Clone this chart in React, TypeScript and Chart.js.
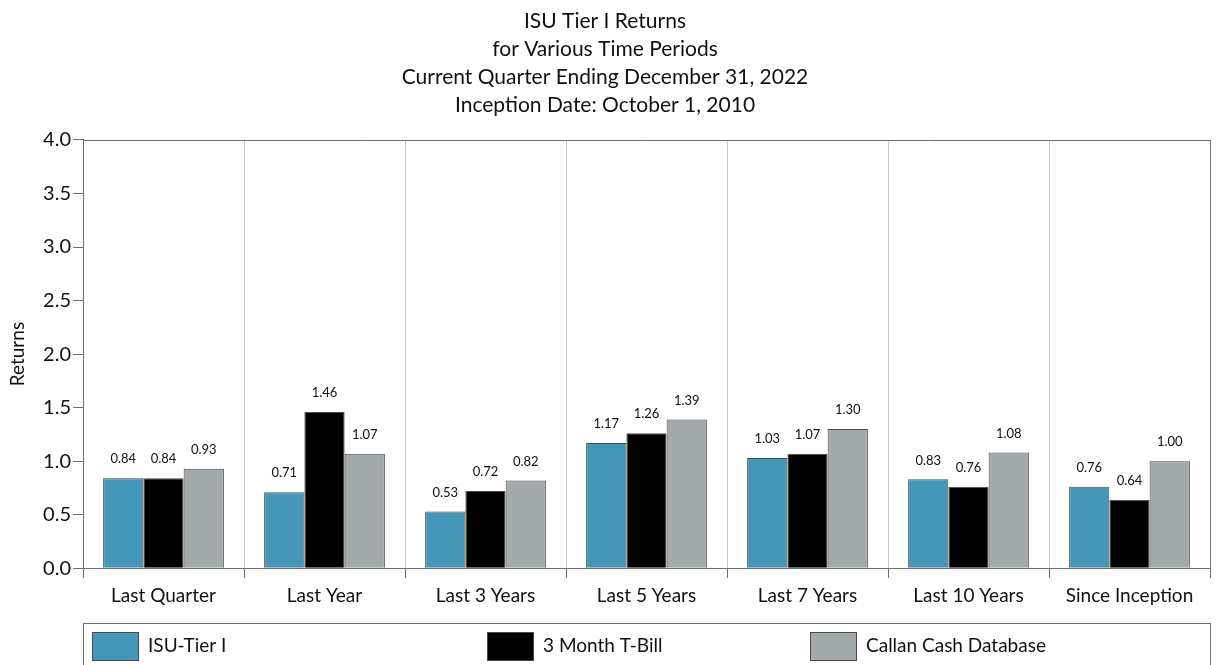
import React, { useEffect, useRef } from 'react';
import { Chart, registerables } from 'chart.js';

Chart.register(...registerables);

const TITLE_LINES = [
  'ISU Tier I Returns',
  'for Various Time Periods',
  'Current Quarter Ending December 31, 2022',
  'Inception Date: October 1, 2010',
];
const CATEGORIES = [
  'Last Quarter',
  'Last Year',
  'Last 3 Years',
  'Last 5 Years',
  'Last 7 Years',
  'Last 10 Years',
  'Since Inception',
];
const SERIES_NAMES = ['ISU-Tier I', '3 Month T-Bill', 'Callan Cash Database'];
const ISU_TIER1 = [0.84, 0.71, 0.53, 1.17, 1.03, 0.83, 0.76];
const T_BILL = [0.84, 1.46, 0.72, 1.26, 1.07, 0.76, 0.64];
const CALLAN_CASH = [0.93, 1.07, 0.82, 1.39, 1.3, 1.08, 1.0];
const Y_MIN = 0;
const Y_MAX = 4;
const Y_STEP = 0.5;
const Y_TITLE = 'Returns';

const SERIES_COLORS = ['#4597b8', '#000000', '#a4a9ac'];
const FONT = 'Lato, "Open Sans", "DejaVu Sans", sans-serif';
const AXIS_COLOR = '#6e6e6e';
const GRID_COLOR = '#c9c9c9';
const TEXT_COLOR = '#111111';

const valueLabelPlugin = {
  id: 'valueLabels',
  afterDatasetsDraw(chart: any) {
    const ctx = chart.ctx;
    ctx.save();
    ctx.font = `13px ${FONT}`;
    ctx.fillStyle = TEXT_COLOR;
    ctx.textAlign = 'center';
    ctx.textBaseline = 'middle';
    chart.data.datasets.forEach((ds: any, di: number) => {
      const meta = chart.getDatasetMeta(di);
      meta.data.forEach((el: any, i: number) => {
        const v = ds.data[i];
        ctx.fillText(Number(v).toFixed(2), el.x, el.y - 19);
      });
    });
    ctx.restore();
  },
};

const framePlugin = {
  id: 'frame',
  afterDraw(chart: any) {
    const { ctx, chartArea } = chart;
    ctx.save();
    ctx.strokeStyle = AXIS_COLOR;
    ctx.lineWidth = 1;
    ctx.beginPath();
    ctx.moveTo(chartArea.left, chartArea.top + 0.5);
    ctx.lineTo(chartArea.right + 0.5, chartArea.top + 0.5);
    ctx.lineTo(chartArea.right + 0.5, chartArea.bottom);
    ctx.stroke();
    ctx.restore();
  },
};

const legendBoxPlugin = {
  id: 'legendBox',
  afterDraw(chart: any) {
    const { ctx, chartArea } = chart;
    const top = 623;
    const left = chartArea.left;
    const right = chartArea.right;
    ctx.save();
    ctx.strokeStyle = AXIS_COLOR;
    ctx.lineWidth = 1;
    ctx.strokeRect(left + 0.5, top + 0.5, right - left, 60);
    const offsets = [9, 404, 727];
    ctx.font = `19px ${FONT}`;
    ctx.textBaseline = 'middle';
    ctx.textAlign = 'left';
    chart.data.datasets.forEach((ds: any, i: number) => {
      const x = left + offsets[i];
      ctx.fillStyle = ds.backgroundColor;
      ctx.fillRect(x, top + 9, 46, 28);
      ctx.strokeStyle = '#4a4a4a';
      ctx.strokeRect(x + 0.5, top + 9.5, 46, 28);
      ctx.fillStyle = TEXT_COLOR;
      ctx.fillText(ds.label, x + 56, top + 23);
    });
    ctx.restore();
  },
};

export default function App() {
  const canvasRef = useRef<HTMLCanvasElement | null>(null);

  useEffect(() => {
    if (!canvasRef.current) return;
    const seriesData = [ISU_TIER1, T_BILL, CALLAN_CASH];
    const chart = new Chart(canvasRef.current, {
      type: 'bar',
      data: {
        labels: CATEGORIES,
        datasets: seriesData.map((d, i) => ({
          label: SERIES_NAMES[i],
          data: d,
          backgroundColor: SERIES_COLORS[i],
          borderColor: '#4a4a4a',
          borderWidth: 1,
          categoryPercentage: 0.75,
          barPercentage: 1.0,
        })),
      },
      options: {
        responsive: false,
        animation: false,
        layout: { padding: { left: 0, right: 7, top: 0, bottom: 52 } },
        plugins: {
          legend: { display: false },
          tooltip: { enabled: false },
          title: {
            display: true,
            text: TITLE_LINES,
            color: TEXT_COLOR,
            font: { family: FONT, size: 21, weight: 'normal', lineHeight: 1.333 },
            padding: { top: 7, bottom: 21 },
          },
        },
        scales: {
          x: {
            offset: true,
            grid: {
              offset: true,
              color: (c: any) => (c.type === 'scale' || c.index === 0 ? AXIS_COLOR : GRID_COLOR),
              tickColor: AXIS_COLOR,
              tickLength: 10,
              lineWidth: 1,
            },
            border: { color: AXIS_COLOR, width: 1 },
            ticks: { color: TEXT_COLOR, font: { family: FONT, size: 19 }, padding: 6, maxRotation: 0 },
          },
          y: {
            min: Y_MIN,
            max: Y_MAX,
            afterFit: (s: any) => {
              s.width = 83;
            },
            grid: { drawOnChartArea: false, tickLength: 10, tickColor: AXIS_COLOR },
            border: { color: AXIS_COLOR, width: 1 },
            ticks: {
              stepSize: Y_STEP,
              color: TEXT_COLOR,
              font: { family: FONT, size: 20 },
              padding: 2,
              callback: (v: any) => Number(v).toFixed(1),
            },
            title: {
              display: true,
              text: Y_TITLE,
              color: TEXT_COLOR,
              font: { family: FONT, size: 19 },
              padding: { top: 6, bottom: 0 },
            },
          },
        },
      },
      plugins: [valueLabelPlugin, framePlugin, legendBoxPlugin],
    });
    return () => chart.destroy();
  }, []);

  return (
    <div style={{ position: 'absolute', left: 0, top: 0, width: 1217, height: 665, background: '#fff' }}>
      <canvas ref={canvasRef} width={1217} height={665} style={{ display: 'block' }} />
    </div>
  );
}
